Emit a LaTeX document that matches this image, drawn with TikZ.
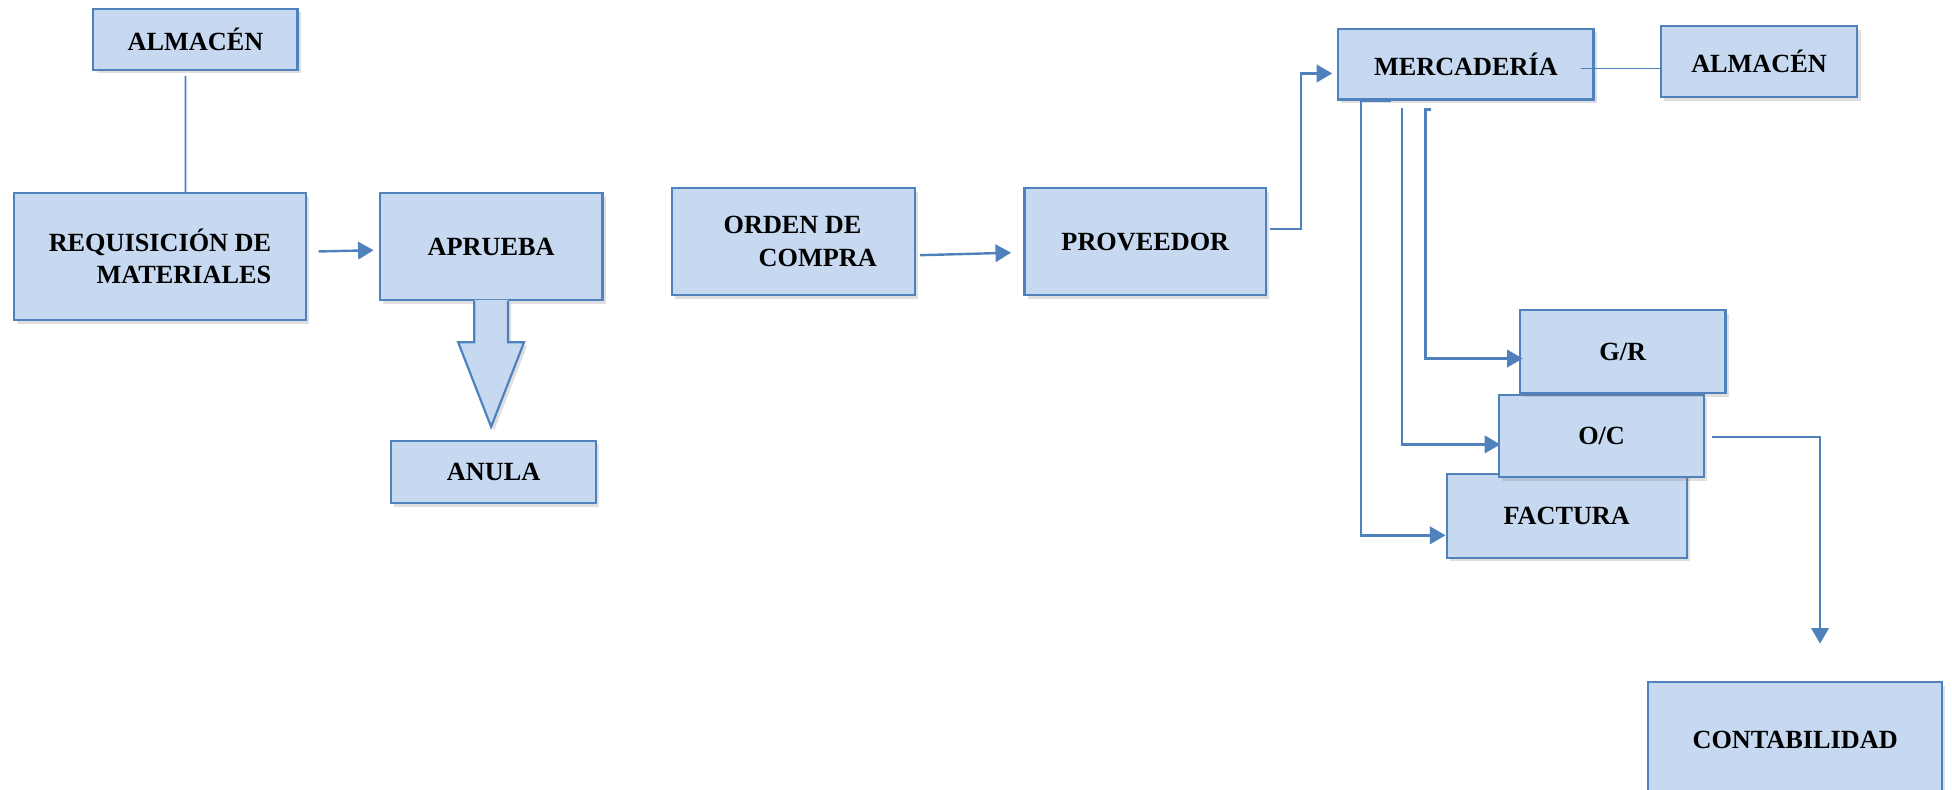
\documentclass[tikz,border=0pt]{standalone}
\usepackage{fontspec}
\setmainfont{Liberation Serif}
\usetikzlibrary{arrows.meta,shadows}
\definecolor{boxfill}{HTML}{C6D9F1}
\definecolor{boxline}{HTML}{4F81BD}

\begin{document}
\begin{tikzpicture}[x=0.02cm, y=-0.02cm,
  box/.style={draw=boxline, fill=boxfill, line width=1pt, inner sep=0pt,
    font=\fontsize{12}{15}\selectfont\bfseries,
    drop shadow={shadow xshift=0.05cm, shadow yshift=-0.06cm, opacity=0.25}},
  conn/.style={draw=boxline, line width=1.1pt, -{Triangle[length=0.25cm, width=0.28cm]}},
  link/.style={draw=boxline, line width=0.7pt}]
  \useasboundingbox (0,0) rectangle (1568,633.8);

  % Left part
  \node[box, minimum width=3.28cm, minimum height=0.98cm] (alm1) at (157,31.5) {ALMACÉN};
  \node[box, minimum width=4.7cm, minimum height=2.04cm, align=right] (req) at (128.5,206) {REQUISICIÓN DE\\MATERIALES};
  \node[box, minimum width=3.58cm, minimum height=1.72cm] (apr) at (394.5,198) {APRUEBA};

  % Block arrow under APRUEBA
  \fill[boxfill, drop shadow={shadow xshift=0.05cm, shadow yshift=-0.06cm, opacity=0.25}]
    ([shift={(-13.5,-1)}]apr.south) -- ([shift={(-13.5,33)}]apr.south) -- ([shift={(-26.5,33)}]apr.south)
    -- ([shift={(0,101)}]apr.south) -- ([shift={(26.5,33)}]apr.south) -- ([shift={(13.5,33)}]apr.south)
    -- ([shift={(13.5,-1)}]apr.south) -- cycle;
  \draw[boxline, line width=1pt, line join=miter]
    ([shift={(-13.5,0)}]apr.south) -- ([shift={(-13.5,33)}]apr.south) -- ([shift={(-26.5,33)}]apr.south)
    -- ([shift={(0,101)}]apr.south) -- ([shift={(26.5,33)}]apr.south) -- ([shift={(13.5,33)}]apr.south)
    -- ([shift={(13.5,0)}]apr.south);

  \node[box, minimum width=3.3cm, minimum height=1cm] (anula) at (396.5,379) {ANULA};

  % Middle part
  \node[box, minimum width=3.9cm, minimum height=1.72cm, align=left] (orden) at (637.5,194) {\hspace*{6pt}ORDEN DE\\\hspace*{22pt}COMPRA};
  \node[box, minimum width=3.88cm, minimum height=1.72cm] (prov) at (920,194) {PROVEEDOR};

  % Right part
  \node[box, minimum width=4.1cm, minimum height=1.14cm] (merc) at (1177.5,51.5) {MERCADERÍA};
  \node[box, minimum width=3.16cm, minimum height=1.14cm] (alm2) at (1413,49.5) {ALMACÉN};
  \node[box, minimum width=3.86cm, minimum height=1.34cm] (fact) at (1258.5,414.5) {FACTURA};
  \node[box, minimum width=3.3cm, minimum height=1.32cm] (oc) at (1286.5,350) {O/C};
  \node[box, minimum width=3.3cm, minimum height=1.34cm] (gr) at (1303.5,282.5) {G/R};
  \node[box, minimum width=4.72cm, minimum height=1.84cm] (cont) at (1442,594) {CONTABILIDAD};

  % Connectors
  \draw[link] ([shift={(-8,4)}]alm1.south) -- ([shift={(20.5,0)}]req.north);
  \draw[conn] ([shift={(9,-4)}]req.east) -- ([shift={(-4,3)}]apr.west);
  \draw[conn] ([shift={(3,11)}]orden.east) -- ([shift={(-10,9)}]prov.west);
  \draw[conn] ([shift={(2,-10)}]prov.east) -- ++(25,0) |- ([shift={(-4,7.5)}]merc.west);
  \draw[link] ([shift={(-11,3.5)}]merc.east) -- ([shift={(0,5.5)}]alm2.west);

  \draw[conn] ([shift={(43,0)}]merc.south west) -- ([shift={(19,0)}]merc.south west) |- ([shift={(0,15.5)}]fact.west);
  \draw[conn] ([shift={(52,6)}]merc.south west) |- ([shift={(2,7)}]oc.west);
  \draw[conn] ([shift={(75,7)}]merc.south west) -- ([shift={(71,7)}]merc.south west) |- ([shift={(3,5.5)}]gr.west);

  \coordinate (contin) at (1462,517);
  \draw[conn] ([shift={(5,1)}]oc.east) -| (contin);
\end{tikzpicture}
\end{document}
